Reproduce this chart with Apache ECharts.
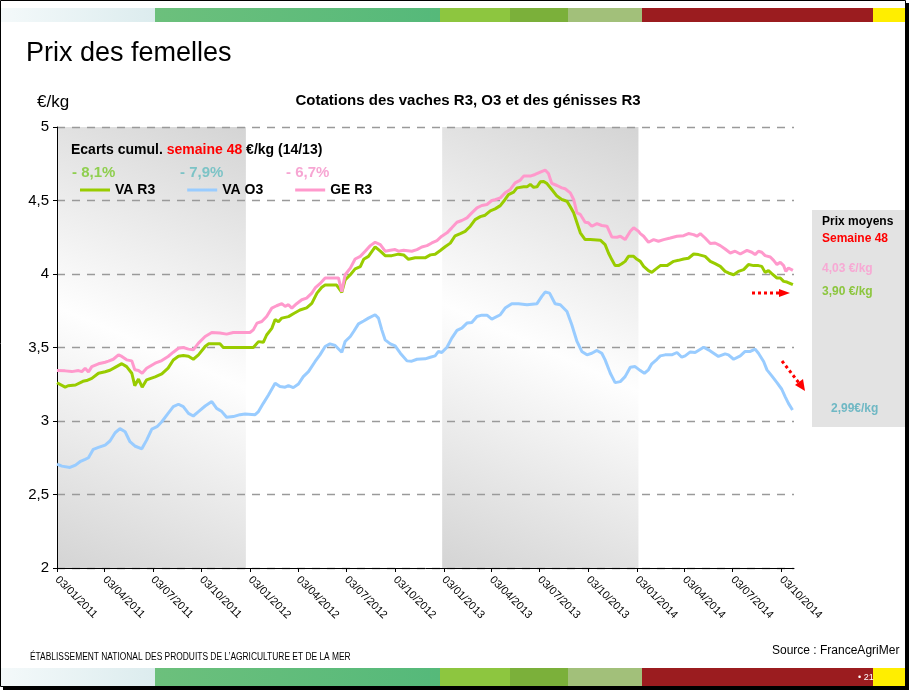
<!DOCTYPE html>
<html>
<head>
<meta charset="utf-8">
<title>Prix des femelles</title>
<script src="https://cdn.jsdelivr.net/npm/echarts@6/dist/echarts.min.js"></script>
<style>
  html, body { margin: 0; padding: 0; background: #fff; }
  #main { width: 909px; height: 690px; }
</style>
</head>
<body>
<div id="main"></div>
<script>
// x = semaines depuis le 03/01/2011, y = cotation en €/kg
var vaR3 = [
  [0,3.26],[2.2,3.23],[3,3.24],[5,3.245],[7,3.27],[8,3.275],[9.4,3.29],[11.2,3.325],[13,3.335],[14.3,3.345],
  [15.7,3.365],[17.5,3.39],[18.8,3.37],[20.2,3.325],[21,3.24],[22,3.285],[23,3.23],[24.2,3.28],[26.5,3.30],
  [28.3,3.32],[30,3.36],[31.4,3.415],[32.8,3.44],[34.1,3.445],[35.5,3.44],[36.8,3.42],[38.2,3.45],[40,3.507],
  [40.9,3.525],[44,3.525],[44.9,3.50],[47.6,3.50],[53,3.50],[54.4,3.54],[55.7,3.535],[56.6,3.585],[58,3.63],
  [58.9,3.69],[59.8,3.675],[60.7,3.70],[62.5,3.71],[63.8,3.73],[65.6,3.755],[67.4,3.77],[68.8,3.80],[70.2,3.87],
  [71.5,3.91],[72.4,3.925],[75.5,3.925],[76.9,3.875],[77.8,3.96],[79.2,3.995],[80.5,4.035],[81.9,4.05],[82.8,4.10],
  [84.1,4.12],[85.9,4.185],[87.3,4.155],[88.6,4.125],[90.4,4.125],[92.2,4.135],[93.6,4.13],[94.9,4.10],[96.7,4.11],
  [99.4,4.11],[100.8,4.13],[102.1,4.135],[103.5,4.16],[104.8,4.185],[106.2,4.21],[107.5,4.26],[108.9,4.275],
  [110.2,4.29],[111.6,4.325],[112.9,4.37],[114.3,4.39],[115.6,4.40],[117,4.43],[118.3,4.443],[119.7,4.465],
  [121,4.507],[121.9,4.54],[123.3,4.557],[124.2,4.586],[126,4.593],[126.9,4.593],[127.8,4.61],[128.7,4.59],
  [129.6,4.593],[130.5,4.627],[131.4,4.63],[132.3,4.615],[133.6,4.575],[135,4.53],[136.3,4.507],[137.7,4.495],
  [138.6,4.457],[139.5,4.416],[140.4,4.348],[141.3,4.28],[142.6,4.234],[144,4.234],[146.7,4.23],[148,4.20],
  [148.9,4.143],[149.8,4.098],[150.7,4.057],[151.6,4.057],[152.5,4.07],[153.4,4.086],[154.3,4.12],[155.7,4.12],
  [156.6,4.10],[157.5,4.086],[158.4,4.052],[159.7,4.023],[160.6,4.011],[161.5,4.03],[162.9,4.057],[164.7,4.057],
  [166.5,4.086],[167.8,4.093],[169.2,4.102],[170.5,4.107],[171.9,4.136],[173.2,4.132],[175,4.12],[176.4,4.086],
  [177.7,4.07],[179.1,4.052],[180.4,4.018],[181.3,4.007],[182.7,3.995],[184,4.018],[185.4,4.03],[186.7,4.064],
  [188.1,4.057],[189.4,4.057],[190.3,4.052],[191.2,4.011],[192.1,4.023],[193,4.002],[194.4,3.973],[195.3,3.973],
  [196.2,3.95],[197.1,3.945],[198.7,3.927]
];
var vaO3 = [
  [0,2.707],[1.3,2.693],[3.5,2.684],[5,2.70],[6.2,2.723],[7.6,2.739],[8.5,2.75],[9.8,2.807],[11.2,2.82],[13,2.836],
  [14.3,2.864],[15.7,2.92],[17,2.948],[18.4,2.927],[19.7,2.859],[21,2.83],[22.9,2.811],[24.2,2.87],[25.6,2.945],
  [27,2.961],[28.3,2.995],[30,3.052],[31.4,3.098],[32.8,3.114],[34.1,3.098],[35.5,3.052],[36.8,3.034],[38.2,3.064],
  [40,3.102],[41.8,3.132],[43.1,3.086],[44.5,3.064],[45.8,3.025],[47.6,3.03],[49.4,3.043],[50.8,3.048],[53.5,3.043],
  [54.4,3.064],[55.7,3.12],[57.1,3.177],[58.9,3.257],[60.2,3.234],[61.6,3.23],[62.5,3.241],[63.8,3.227],[65.2,3.252],
  [66.5,3.302],[67.9,3.336],[69.7,3.405],[71,3.45],[72.4,3.507],[73.7,3.525],[75.1,3.514],[76.9,3.468],[77.8,3.541],
  [79.2,3.575],[80.1,3.609],[81.4,3.661],[82.8,3.68],[84.1,3.70],[85.9,3.723],[86.8,3.70],[87.7,3.62],[88.6,3.552],
  [90,3.525],[91.3,3.511],[92.7,3.461],[94.5,3.409],[95.8,3.407],[97.2,3.42],[99.4,3.423],[100.8,3.434],[102.1,3.443],
  [103,3.473],[103.9,3.466],[105.3,3.502],[106.6,3.564],[108,3.616],[109.3,3.632],[110.7,3.666],[112,3.67],
  [113.4,3.711],[114.7,3.72],[116.1,3.72],[117.4,3.693],[117.9,3.682],[119.7,3.723],[121,3.768],[122.8,3.798],
  [124.6,3.798],[126.9,3.791],[129.6,3.798],[130.9,3.848],[131.8,3.877],[133,3.87],[134.5,3.798],[135.9,3.791],
  [137.7,3.745],[139,3.655],[140.4,3.541],[141.7,3.473],[143.1,3.45],[144.4,3.461],[145.8,3.48],[147.1,3.461],
  [148,3.416],[149.4,3.325],[150.7,3.261],[152.1,3.268],[153.4,3.302],[154.8,3.366],[156.1,3.37],[157.5,3.343],
  [158.6,3.325],[159.7,3.348],[160.6,3.389],[162,3.42],[162.9,3.443],[164.2,3.45],[166,3.45],[167.4,3.466],
  [168.7,3.434],[169.6,3.443],[171,3.47],[172.3,3.466],[174.6,3.502],[175.9,3.484],[177.3,3.461],[178.6,3.439],
  [180.4,3.457],[181.3,3.45],[182.7,3.42],[184.5,3.443],[185.8,3.473],[187.2,3.473],[188.5,3.489],[189.4,3.461],
  [190.8,3.405],[191.7,3.348],[193,3.307],[194.4,3.261],[195.7,3.216],[196.6,3.166],[197.5,3.12],[198.6,3.075]
];
var geR3 = [
  [0,3.343],[2.2,3.341],[4,3.336],[5.8,3.343],[6.7,3.336],[7.6,3.359],[8.5,3.334],[9.4,3.37],[11.2,3.389],[13,3.40],
  [13.9,3.407],[15.2,3.42],[16.6,3.45],[17.5,3.439],[18.8,3.416],[20.2,3.409],[21,3.348],[22,3.343],[23,3.325],
  [24.2,3.359],[26.5,3.393],[28.3,3.411],[30,3.439],[31.4,3.468],[32.8,3.495],[34.1,3.50],[35.5,3.489],[36.8,3.484],
  [38.2,3.53],[40,3.575],[41.8,3.602],[44,3.598],[45.8,3.591],[47.6,3.602],[52.1,3.602],[53,3.62],[54,3.666],
  [55.3,3.677],[56.6,3.711],[58,3.768],[59.3,3.784],[60.7,3.798],[61.6,3.78],[62.5,3.791],[63.4,3.768],[64.7,3.798],
  [66.1,3.825],[67.4,3.836],[68.8,3.87],[69.7,3.905],[71,3.934],[72.4,3.973],[76,3.973],[76.9,3.88],[77.8,3.995],
  [79.2,4.04],[80.5,4.102],[81.9,4.12],[83.2,4.155],[84.6,4.193],[85.9,4.216],[87.3,4.20],[88.6,4.155],[90,4.161],
  [91.3,4.166],[92.2,4.155],[93.6,4.161],[95.8,4.155],[97.2,4.166],[98.5,4.184],[99.9,4.193],[101.2,4.211],
  [102.6,4.227],[103.9,4.257],[105.3,4.28],[106.6,4.314],[108,4.352],[109.3,4.364],[110.7,4.382],[112,4.416],
  [113.4,4.45],[114.7,4.466],[116.1,4.473],[117.4,4.50],[118.3,4.505],[119.7,4.518],[121,4.552],[122.4,4.575],
  [123.7,4.62],[125.1,4.639],[126,4.666],[127.8,4.666],[129.1,4.677],[130.5,4.693],[131.8,4.707],[132.7,4.684],
  [133.6,4.616],[135,4.602],[136.3,4.586],[137.2,4.58],[138.6,4.552],[139.5,4.507],[140.4,4.416],[141.3,4.405],
  [142.6,4.352],[143.5,4.348],[144.4,4.325],[145.8,4.343],[147.1,4.33],[148.5,4.325],[149.8,4.252],[151.2,4.25],
  [152.1,4.257],[153.4,4.234],[154.8,4.291],[155.7,4.314],[157,4.291],[157.5,4.275],[158.4,4.257],[159.7,4.216],
  [161.1,4.234],[162.4,4.223],[163.8,4.234],[165.6,4.245],[167.4,4.257],[169.2,4.261],[170.5,4.275],[171.9,4.268],
  [172.8,4.257],[173.7,4.275],[175,4.245],[176.4,4.207],[177.7,4.211],[179.1,4.193],[180.4,4.17],[181.8,4.143],
  [183.1,4.155],[184.5,4.136],[186.3,4.161],[187.6,4.148],[188.5,4.132],[189.4,4.155],[190.3,4.148],[191.2,4.125],
  [192.6,4.116],[193.5,4.093],[194.4,4.064],[195.3,4.08],[196.2,4.057],[196.8,4.018],[197.5,4.041],[198.7,4.025]
];
var tickLabels = [
  '03/01/2011','03/04/2011','03/07/2011','03/10/2011',
  '03/01/2012','03/04/2012','03/07/2012','03/10/2012',
  '03/01/2013','03/04/2013','03/07/2013','03/10/2013',
  '03/01/2014','03/04/2014','03/07/2014','03/10/2014'
];
var seriesNames = ['VA R3', 'VA O3', 'GE R3'];
var ecarts = ['- 8,1%', '- 7,9%', '- 6,7%'];
var prixSemaine = ['4,03 €/kg', '3,90 €/kg', '2,99€/kg'];
// années grisées (en semaines)
var yearBands = [[0, 51], [104, 157]];

var FONT = '"Liberation Sans", Arial, sans-serif';

function labelToWeek(s) {
  var p = s.split('/');
  return (Date.UTC(+p[2], +p[1] - 1, +p[0]) - Date.UTC(2011, 0, 3)) / (7 * 864e5);
}
var tickWeeks = tickLabels.map(labelToWeek);

var bandColor = new echarts.graphic.LinearGradient(0, 1, 1, 0, [
  { offset: 0, color: '#d4d4d4' },
  { offset: 0.5, color: '#fefefe' },
  { offset: 1, color: '#d4d4d4' }
]);

var barSegs = [
  [0, 155, new echarts.graphic.LinearGradient(0, 0, 1, 0, [{offset: 0, color: '#f4f9fa'}, {offset: 1, color: '#dcecee'}])],
  [155, 440, new echarts.graphic.LinearGradient(0, 0, 1, 0, [{offset: 0, color: '#6cc07c'}, {offset: 1, color: '#55b97a'}])],
  [440, 510, '#8dc63f'],
  [510, 568, '#7bb03a'],
  [568, 642, '#a2c07a'],
  [642, 873, '#9b1c1f'],
  [873, 909, '#ffee00']
];
function bar(y, h) {
  return barSegs.map(function (s) {
    return { type: 'rect', shape: { x: s[0], y: y, width: s[1] - s[0], height: h }, style: { fill: s[2] }, silent: true };
  });
}

var myChart = echarts.init(document.getElementById('main'));

var deco = [].concat(bar(8, 14), bar(668, 18), [
  // cadre de la diapositive
  { type: 'rect', shape: { x: 0.5, y: 0.5, width: 905, height: 686 }, style: { fill: null, stroke: '#000', lineWidth: 1 }, silent: true },
  { type: 'rect', shape: { x: 905, y: 3, width: 4, height: 687 }, style: { fill: '#000' }, silent: true },
  { type: 'rect', shape: { x: 3, y: 686, width: 906, height: 4 }, style: { fill: '#000' }, silent: true },
  { type: 'text', x: 26, y: 40, style: { text: 'Prix des femelles', font: '27px ' + FONT, fill: '#000' } },
  { type: 'text', x: 37, y: 94, style: { text: '€/kg', font: '17px ' + FONT, fill: '#000' } },
  {
    type: 'text', x: 71, y: 143,
    style: {
      text: '{a|Ecarts cumul. }{b|semaine 48}{a| €/kg (14/13)}',
      rich: {
        a: { fontSize: 14, fontWeight: 'bold', fontFamily: FONT, fill: '#000' },
        b: { fontSize: 14, fontWeight: 'bold', fontFamily: FONT, fill: '#ff0000' }
      }
    }
  },
  { type: 'text', x: 72, y: 165, style: { text: ecarts[0], font: 'bold 15px ' + FONT, fill: '#8fcf4f' } },
  { type: 'text', x: 180, y: 165, style: { text: ecarts[1], font: 'bold 15px ' + FONT, fill: '#7cc3c6' } },
  { type: 'text', x: 286, y: 165, style: { text: ecarts[2], font: 'bold 15px ' + FONT, fill: '#f7a6d3' } },
  // encadré prix moyens
  { type: 'rect', shape: { x: 812, y: 210, width: 93, height: 217 }, style: { fill: '#e3e3e3' }, silent: true },
  { type: 'text', x: 822, y: 216, style: { text: 'Prix moyens', font: 'bold 12px ' + FONT, fill: '#000' } },
  { type: 'text', x: 822, y: 233, style: { text: 'Semaine 48', font: 'bold 12px ' + FONT, fill: '#ff0000' } },
  { type: 'text', x: 822, y: 263, style: { text: prixSemaine[0], font: 'bold 12px ' + FONT, fill: '#f7a9d4' } },
  { type: 'text', x: 822, y: 286, style: { text: prixSemaine[1], font: 'bold 12px ' + FONT, fill: '#8cc63e' } },
  { type: 'text', x: 831, y: 403, style: { text: prixSemaine[2], font: 'bold 12px ' + FONT, fill: '#6fb8c4' } },
  // flèches rouges
  { type: 'line', shape: { x1: 752, y1: 293, x2: 781, y2: 293 }, style: { stroke: '#ff0000', lineWidth: 3, lineDash: [3, 3] }, silent: true },
  { type: 'polygon', shape: { points: [[779, 289], [790, 293], [779, 297]] }, style: { fill: '#ff0000' }, silent: true },
  { type: 'line', shape: { x1: 782, y1: 361, x2: 799, y2: 383 }, style: { stroke: '#ff0000', lineWidth: 3, lineDash: [3, 3] }, silent: true },
  { type: 'polygon', shape: { points: [[795, 385], [805, 391], [803, 379]] }, style: { fill: '#ff0000' }, silent: true },
  // pied de page
  { type: 'text', x: 30, y: 652, scaleX: 0.84, style: { text: 'ÉTABLISSEMENT NATIONAL DES PRODUITS DE L\u2019AGRICULTURE ET DE LA MER', font: '10px ' + FONT, fill: '#000' } },
  { type: 'text', x: 772, y: 645, style: { text: 'Source : FranceAgriMer', font: '12px ' + FONT, fill: '#000' } },
  { type: 'text', x: 858, y: 673, style: { text: '\u2022 21', font: '9px ' + FONT, fill: '#fff' } }
]).map(function (g) { g.z = 100; return g; });

var option = {
  animation: false,
  backgroundColor: '#fff',
  textStyle: { fontFamily: FONT },
  title: {
    text: 'Cotations des vaches R3, O3 et des génisses R3',
    left: 463, top: 88, textAlign: 'center',
    textStyle: { fontSize: 15, fontWeight: 'bold', color: '#000', fontFamily: FONT }
  },
  legend: {
    data: seriesNames,
    left: 75, top: 178,
    icon: 'rect', itemWidth: 30, itemHeight: 3, itemGap: 32,
    textStyle: { fontSize: 14, fontWeight: 'bold', color: '#000', fontFamily: FONT }
  },
  grid: { left: 57, top: 127, width: 737, height: 441 },
  xAxis: {
    type: 'value', min: 0, max: 199, z: 2,
    axisLine: { lineStyle: { color: '#000', width: 1 } },
    axisTick: { customValues: tickWeeks, length: 4, lineStyle: { color: '#000' } },
    axisLabel: {
      customValues: tickWeeks, rotate: -45, margin: 10, fontSize: 11, color: '#000', fontFamily: FONT,
      formatter: function (v) {
        for (var i = 0; i < tickWeeks.length; i++) if (Math.abs(tickWeeks[i] - v) < 0.01) return tickLabels[i];
        return '';
      }
    },
    splitLine: { show: false }
  },
  yAxis: {
    type: 'value', min: 2, max: 5, interval: 0.5, z: 2,
    axisLine: { show: true, lineStyle: { color: '#000', width: 1 } },
    axisTick: { show: true, length: 4, lineStyle: { color: '#000' } },
    axisLabel: {
      fontSize: 15, color: '#000', margin: 8, fontFamily: FONT,
      formatter: function (v) { return String(v).replace('.', ','); }
    },
    splitLine: { lineStyle: { color: '#9a9a9a', type: [8, 7], width: 1.3 } }
  },
  series: [
    {
      name: 'bands', type: 'line', data: [], z: 1, silent: true,
      markArea: {
        silent: true,
        itemStyle: { color: bandColor },
        data: yearBands.map(function (b) { return [{ xAxis: b[0] }, { xAxis: b[1] }]; })
      }
    },
    { name: seriesNames[0], type: 'line', data: vaR3, z: 3, showSymbol: false, color: '#99cc00', lineStyle: { width: 3 } },
    { name: seriesNames[1], type: 'line', data: vaO3, z: 3, showSymbol: false, color: '#99ccff', lineStyle: { width: 3 } },
    { name: seriesNames[2], type: 'line', data: geR3, z: 3, showSymbol: false, color: '#ff99cc', lineStyle: { width: 3 } }
  ],
  graphic: deco
};

myChart.setOption(option);
</script>
</body>
</html>
